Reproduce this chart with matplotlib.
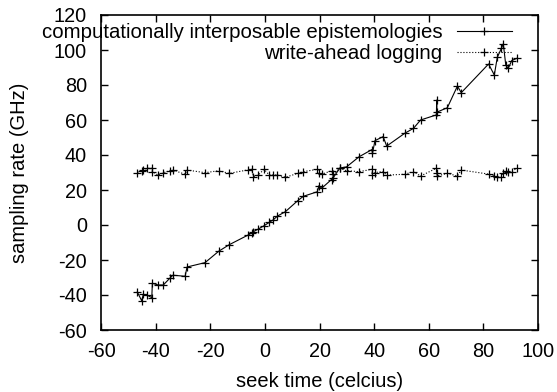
import matplotlib
matplotlib.use("Agg")
import matplotlib.pyplot as plt

plt.rcParams['font.family'] = ['Liberation Sans', 'DejaVu Sans']
plt.rcParams['axes.unicode_minus'] = False

seek_time = [-46.7, -45.1, -44.5, -43.0, -41.4, -41.2, -39.0, -37.2, -34.6, -33.7,
             -29.2, -28.5, -21.9, -16.9, -13.1, -6.1, -4.8, -4.2, -2.4, -0.3,
             1.6, 3.1, 4.6, 7.5, 12.1, 14.1, 19.2, 19.8, 20.8, 24.4,
             25.0, 27.5, 29.9, 34.5, 39.2, 39.4, 40.3, 43.3, 44.6, 51.2,
             54.4, 57.0, 62.8, 62.9, 63.0, 66.8, 70.5, 71.9, 81.9, 84.0,
             85.1, 86.6, 87.3, 88.2, 89.1, 90.4, 92.2]

epistemologies = [-38.3, -43.3, -39.6, -40.2, -41.5, -33.3, -34.3, -34.3, -30.1, -28.7,
                  -29.3, -24.0, -21.5, -15.0, -11.3, -5.7, -4.5, -3.8, -2.3, -0.4,
                  1.5, 3.0, 5.1, 7.6, 14.0, 16.4, 19.0, 22.5, 21.0, 26.0,
                  27.0, 32.6, 33.2, 39.0, 43.1, 41.0, 48.2, 50.5, 45.1, 52.4,
                  55.2, 60.0, 62.9, 71.4, 64.5, 67.0, 79.4, 75.6, 92.0, 85.7,
                  95.8, 101.0, 103.5, 91.4, 89.5, 94.0, 95.2]

write_ahead = [29.9, 31.0, 31.5, 32.4, 32.4, 30.5, 28.4, 29.9, 31.0, 31.4,
               29.0, 31.4, 29.9, 31.0, 29.5, 31.5, 31.8, 27.6, 28.6, 31.8,
               28.6, 28.6, 28.6, 27.3, 29.5, 30.5, 31.8, 29.5, 29.0, 31.0,
               29.0, 32.4, 31.0, 30.5, 31.8, 28.5, 30.0, 30.5, 28.5, 29.0,
               30.5, 28.0, 32.4, 29.5, 28.0, 29.5, 28.0, 31.4, 29.1, 28.0,
               27.3, 27.3, 29.9, 31.0, 30.5, 30.5, 32.4]

labels = ["computationally interposable epistemologies", "write-ahead logging"]
xticks = [-60, -40, -20, 0, 20, 40, 60, 80, 100]
yticks = [-60, -40, -20, 0, 20, 40, 60, 80, 100, 120]

fig = plt.figure(figsize=(5.57, 3.92), dpi=100)
ax = fig.add_axes([101/557, 1-330/392, 437/557, 315/392])

ax.plot(seek_time, epistemologies, color='black', linestyle='-', linewidth=0.8,
        marker='+', markersize=6, markeredgewidth=0.9, label=labels[0])
ax.plot(seek_time, write_ahead, color='black', linestyle=':', linewidth=0.8,
        marker='+', markersize=6, markeredgewidth=0.9, label=labels[1])

ax.set_xlim(-60, 100)
ax.set_ylim(-60, 120)
ax.set_xticks(xticks)
ax.set_yticks(yticks)
ax.tick_params(direction='in', length=5, width=1, top=True, right=True,
               labelsize=14.3)
ax.tick_params(axis='y', pad=10)
ax.tick_params(axis='x', pad=8.5)
for s in ax.spines.values():
    s.set_linewidth(1.2)

ax.set_xlabel("seek time (celcius)", fontsize=14.5, labelpad=8)
ax.set_ylabel("sampling rate (GHz)", fontsize=14.5, labelpad=18)

leg = ax.legend(loc='upper right', bbox_to_anchor=(0.9405, 0.974),
                markerfirst=False, frameon=False, fontsize=14.7, numpoints=1,
                handlelength=2.7, handletextpad=0.72, labelspacing=0.08,
                borderpad=0, borderaxespad=0)

fig.savefig("out.png", dpi=100)
